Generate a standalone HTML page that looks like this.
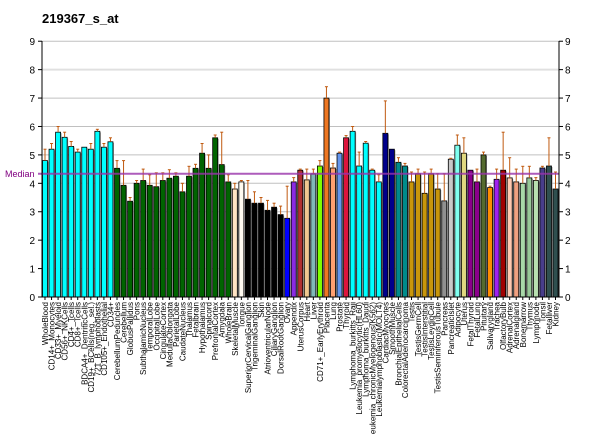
<!DOCTYPE html>
<html><head><meta charset="utf-8"><style>
html,body{margin:0;padding:0;background:#fff;width:600px;height:434px;overflow:hidden}
svg text{font-family:"Liberation Sans",Arial,sans-serif}
</style></head><body>
<svg id="c" width="600" height="434" xmlns="http://www.w3.org/2000/svg">
<text x="42" y="23" font-size="13" font-weight="bold" fill="#000">219367_s_at</text>
<text x="5" y="177" font-size="9" fill="#800080">Median</text>
</svg>
<script>
var d=[
["WholeBlood",4.8,5.2,"#00ffff"],["CD14+_Monocytes",5.2,5.4,"#00ffff"],["CD33+_Myeloid",5.8,6.0,"#00ffff"],["CD56+_NKCells",5.62,5.8,"#00ffff"],["CD4+_Tcells",5.3,5.47,"#00ffff"],["CD8+_Tcells",5.1,5.2,"#00ffff"],["BDCA4+_DentriticCells",5.27,5.27,"#00ffff"],["CD19+_BCells(neg._sel.)",5.2,5.4,"#00ffff"],["721_B_lymphoblasts",5.83,5.9,"#00ffff"],["CD105+_Endothelial",5.27,5.4,"#00ffff"],["CD34+",5.46,5.6,"#00ffff"],
["CerebellumPeduncles",4.53,4.8,"#006400"],["Cerebellum",3.93,4.8,"#006400"],["GlobusPallidus",3.37,3.5,"#006400"],["Pons",4.0,4.1,"#006400"],["SubthalamicNucleus",4.1,4.5,"#006400"],["TemporalLobe",3.93,4.3,"#006400"],["OccipitalLobe",3.88,4.37,"#006400"],["CingulateCortex",4.1,4.37,"#006400"],["MedullaOblongata",4.18,4.48,"#006400"],["ParietalLobe",4.25,4.37,"#006400"],["CaudateNucleus",3.7,4.0,"#006400"],["Thalamus",4.25,4.6,"#006400"],["Fetalbrain",4.53,4.67,"#006400"],["Hypothalamus",5.06,5.4,"#006400"],["Spinalcord",4.53,5.0,"#006400"],["PrefrontalCortex",5.6,5.7,"#006400"],["Amygdala",4.66,5.8,"#006400"],["WholeBrain",4.05,4.3,"#006400"],
["SkeletalMuscle",3.8,4.0,"#ffe4c4"],["Tongue",4.05,4.1,"#fffaf0"],
["SuperiorCervicalGanglion",3.44,4.1,"#000"],["TrigeminalGanglion",3.3,3.7,"#000"],["Skin",3.3,3.5,"#000"],["AtrioventricularNode",3.05,3.4,"#000"],["CiliaryGanglion",3.16,3.3,"#000"],["DorsalRootGanglion",2.9,3.2,"#000"],
["Ovary",2.77,3.9,"#0000ff"],["Appendix",4.05,4.2,"#8a2be2"],["UterusCorpus",4.46,4.5,"#b03030"],["Heart",4.12,4.5,"#f0c890"],["Liver",4.33,4.5,"#80b8b8"],["CD71+_EarlyErythroid",4.61,4.8,"#7fff00"],["Placenta",7.0,7.4,"#ee7722"],["Lung",4.54,4.7,"#ffa070"],["Prostate",5.06,5.1,"#6495ed"],["Thyroid",5.6,5.68,"#dc143c"],
["Lymphoma_burkitts_Raji",5.83,6.0,"#00ffff"],["Leukemia_promyelocytic(HL60)",4.61,5.1,"#00ffff"],["Lymphoma_burkitts_Daudi",5.41,5.47,"#00ffff"],["Leukemia_chronicMyelogenous(K562)",4.46,4.5,"#00ffff"],["Leukemialymphoblastic(MOLT4)",4.05,4.3,"#00ffff"],
["CardiacMyocytes",5.76,6.9,"#00008b"],["SmoothMuscle",5.2,5.2,"#00008b"],["BronchialEpithelialCells",4.74,4.9,"#008b8b"],["ColorectalAdenocarcinoma",4.61,4.7,"#008b8b"],
["Testis",4.05,4.4,"#c8960b"],["TestisGermCell",4.33,4.5,"#c8960b"],["TestisInterstitial",3.65,4.4,"#c8960b"],["TestisLeydigCell",4.33,4.5,"#c8960b"],["TestisSeminiferousTubule",3.8,4.33,"#c8960b"],
["Pancreas",3.38,4.33,"#909090"],["PancreaticIslet",4.85,4.88,"#c8c8c8"],["Adipocyte",5.34,5.7,"#80fff0"],["Uterus",5.06,5.6,"#e0d880"],["FetalThyroid",4.46,4.46,"#8b008b"],["FetalLung",4.05,4.5,"#8b008b"],["Pituitary",5.0,5.1,"#556b2f"],["Salivarygland",3.85,3.9,"#ff8c00"],["Trachea",4.14,4.5,"#a020f0"],["OlfactoryBulb",4.46,5.8,"#a00000"],["AdrenalCortex",4.19,4.9,"#ffc8b0"],["Adrenalgland",4.05,4.5,"#f0a080"],["Bonemarrow",4.0,4.6,"#a8d8a8"],["Thymus",4.19,4.6,"#98c898"],["Lymphnode",4.1,4.2,"#b8e0b0"],["Tonsil",4.54,4.6,"#483d8b"],["Fetalliver",4.61,5.6,"#2f4f4f"],["Kidney",3.8,4.4,"#2f4f4f"]];
var s=document.getElementById("c"),h="";
function Y(v){return 297-v*28.42;}
for(var k=1;k<=9;k++){var y=Y(k).toFixed(1);h+='<line x1="42" x2="559" y1="'+y+'" y2="'+y+'" stroke="'+(k==8?'#e0e0e0':'#c0c0c0')+'" stroke-width="'+(k==8?2:1)+'"/>';}
for(var k=0;k<=9;k++){var y=Y(k);h+='<text x="35" y="'+(y+4).toFixed(1)+'" font-size="10" text-anchor="end">'+k+'</text><text x="565" y="'+(y+4).toFixed(1)+'" font-size="10">'+k+'</text><line x1="38" x2="42" y1="'+y+'" y2="'+y+'" stroke="#000"/><line x1="559" x2="563" y1="'+y+'" y2="'+y+'" stroke="#000"/>';}
for(var i=0;i<d.length;i++){var c=45+i*6.545,b=d[i],t=Y(b[1]),e=Y(b[2]);
h+='<rect x="'+(c-0.5).toFixed(2)+'" y="'+(t+1).toFixed(1)+'" width="4" height="'+(297-t-1).toFixed(1)+'" fill="#999"/>';
h+='<rect x="'+(c-2.5).toFixed(2)+'" y="'+t.toFixed(1)+'" width="5" height="'+(297-t).toFixed(1)+'" fill="'+b[3]+'" stroke="#000" stroke-width="0.8"/>';
if(b[2]>b[1]+0.02)h+='<line x1="'+c.toFixed(2)+'" x2="'+c.toFixed(2)+'" y1="'+e.toFixed(1)+'" y2="'+t.toFixed(1)+'" stroke="#c05a10" stroke-width="1"/><line x1="'+(c-1.5).toFixed(2)+'" x2="'+(c+1.5).toFixed(2)+'" y1="'+e.toFixed(1)+'" y2="'+e.toFixed(1)+'" stroke="#c05a10"/>';
h+='<line x1="'+c.toFixed(2)+'" x2="'+c.toFixed(2)+'" y1="297" y2="300" stroke="#000"/>';
h+='<text transform="translate('+(c+3).toFixed(2)+',302) rotate(-90)" font-size="8" text-anchor="end">'+b[0]+'</text>';}
var m=Y(4.34).toFixed(1);
h+='<line x1="38" x2="559" y1="'+m+'" y2="'+m+'" stroke="#9933aa" stroke-opacity="0.8" stroke-width="2"/>';
h+='<line x1="42" x2="42" y1="41" y2="297" stroke="#000"/><line x1="559" x2="559" y1="41" y2="297" stroke="#000"/><line x1="42" x2="559" y1="297" y2="297" stroke="#000"/>';
s.insertAdjacentHTML("beforeend",h);
</script>
</body></html>
